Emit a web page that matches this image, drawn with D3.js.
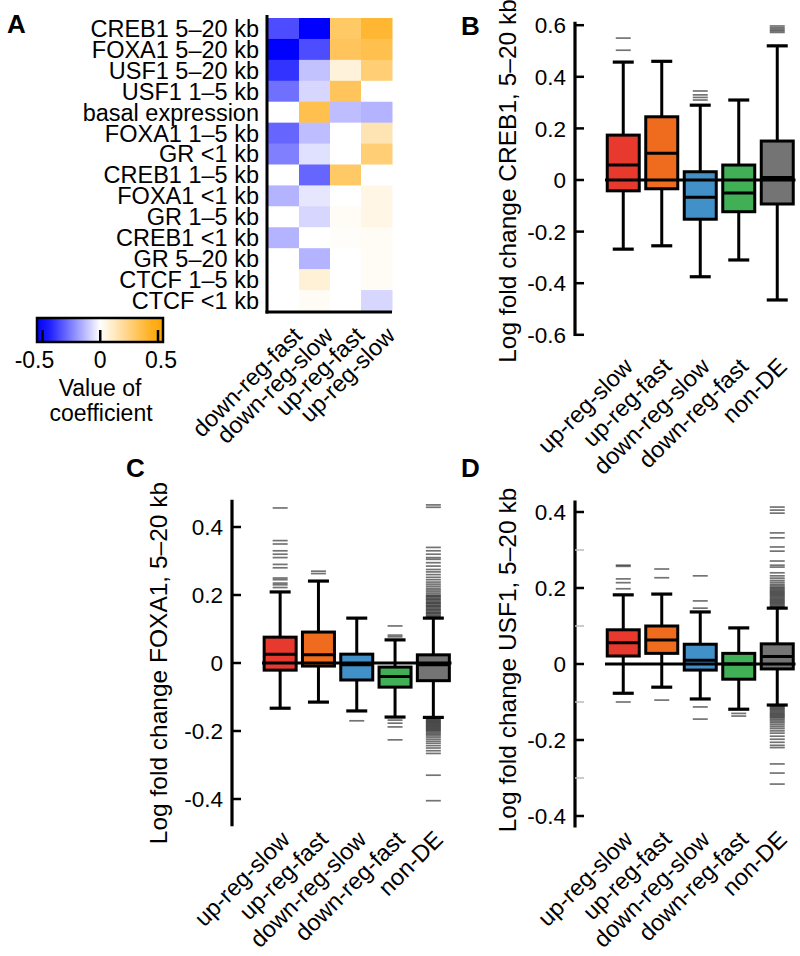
<!DOCTYPE html>
<html><head><meta charset="utf-8">
<script src="https://cdn.jsdelivr.net/npm/d3@7"></script>
<style>
body{margin:0;background:#fff}
text{font-family:"Liberation Sans",Arial,Helvetica,sans-serif;fill:#000}
</style>
</head><body>
<svg id="chart" width="800" height="956"></svg>
<script>
// ---------- DATA ----------
const rowLabels = ["CREB1 5\u201320 kb","FOXA1 5\u201320 kb","USF1 5\u201320 kb","USF1 1\u20135 kb","basal expression",
  "FOXA1 1\u20135 kb","GR <1 kb","CREB1 1\u20135 kb","FOXA1 <1 kb","GR 1\u20135 kb","CREB1 <1 kb","GR 5\u201320 kb",
  "CTCF 1\u20135 kb","CTCF <1 kb"];
const colLabels = ["down-reg-fast","down-reg-slow","up-reg-fast","up-reg-slow"];
// coefficient per row, columns in colLabels order
const coefDownFast = [-0.35,-0.5,-0.4,-0.28,0,-0.3,-0.25,0,-0.15,0,-0.15,0,0,0];
const coefDownSlow = [-0.5,-0.35,-0.12,-0.08,0.35,-0.13,-0.06,-0.3,-0.05,-0.08,0,-0.15,0.08,0.02];
const coefUpFast   = [0.3,0.32,0.07,0.32,-0.13,0,0,0.3,0,0.02,0.01,0,0,0];
const coefUpSlow   = [0.4,0.35,0.27,0,-0.15,0.15,0.27,0,0.05,0.05,0.02,0.02,0.02,-0.08];
const colorbarTicks = [-0.5,0,0.5];

const groups = ["up-reg-slow","up-reg-fast","down-reg-slow","down-reg-fast","non-DE"];
const groupColors = ["#e8392f","#ef6c1e","#4190c8","#40af55","#747474"];

// box stats per group: [lower whisker, Q1, median, Q3, upper whisker]
const creb1Stats = [
  [-0.268,-0.042,0.058,0.174,0.457],
  [-0.255,-0.034,0.104,0.245,0.46],
  [-0.375,-0.152,-0.067,0.032,0.29],
  [-0.31,-0.123,-0.05,0.058,0.31],
  [-0.465,-0.093,0.01,0.151,0.52]];
const creb1Outliers = [
  [0.55,0.503],
  [],
  [0.31,0.32,0.33,0.345],
  [],
  [0.572,0.578,0.584,0.59,0.597]];
const creb1Ticks = [0.6,0.4,0.2,0,-0.2,-0.4,-0.6];

const foxa1Stats = [
  [-0.133,-0.021,0.026,0.076,0.209],
  [-0.115,-0.009,0.024,0.091,0.241],
  [-0.141,-0.05,-0.005,0.026,0.132],
  [-0.159,-0.071,-0.04,-0.012,0.068],
  [-0.16,-0.052,-0.005,0.024,0.132]];
const foxa1Outliers = [
  [0.456,0.36,0.35,0.33,0.32,0.31,0.29,0.28,0.25,0.245,0.235,0.23,0.222],
  [0.27,0.263],
  [-0.17],
  [0.109,0.082,0.077,-0.168,-0.177,-0.188,-0.226],
  [0.465,0.458,0.34,0.33,0.32,0.31,0.305,0.295,0.285,0.275,0.268,0.26,0.252,0.245,0.238,0.232,0.226,0.22,
   0.215,0.21,0.205,0.2,0.197,0.194,0.19,0.187,0.184,0.18,0.177,0.174,0.17,0.167,0.164,0.16,0.157,0.154,0.15,
   0.147,0.144,0.14,0.137,0.134,
   -0.162,-0.165,-0.168,-0.171,-0.174,-0.177,-0.18,-0.183,-0.186,-0.189,-0.192,-0.195,-0.198,-0.201,-0.205,
   -0.209,-0.213,-0.218,-0.224,-0.23,-0.236,-0.243,-0.25,-0.258,-0.266,-0.33,-0.405]];
const foxa1Ticks = [0.4,0.2,0,-0.2,-0.4];

const usf1Stats = [
  [-0.077,0.021,0.056,0.09,0.182],
  [-0.061,0.028,0.063,0.1,0.184],
  [-0.092,-0.016,0.01,0.052,0.137],
  [-0.119,-0.04,0.0,0.028,0.095],
  [-0.108,-0.013,0.02,0.053,0.147]];
const usf1Outliers = [
  [0.26,0.257,0.224,0.214,0.198,-0.1],
  [0.25,0.227,-0.095],
  [0.232,0.166,0.147,-0.113,-0.145],
  [-0.13,-0.137],
  [0.413,0.405,0.397,0.345,0.332,0.308,0.297,0.271,0.26,0.255,0.24,0.232,0.226,0.22,0.215,0.21,0.206,0.202,
   0.199,0.196,0.193,0.19,0.187,0.184,0.181,0.178,0.175,0.172,0.169,0.166,0.163,0.16,0.157,0.154,0.151,0.149,
   -0.11,-0.113,-0.116,-0.119,-0.122,-0.125,-0.128,-0.131,-0.134,-0.137,-0.14,-0.143,-0.147,-0.151,-0.155,
   -0.16,-0.165,-0.17,-0.176,-0.182,-0.19,-0.198,-0.206,-0.214,-0.22,-0.263,-0.287,-0.316]];
const usf1Ticks = [0.4,0.2,0,-0.2,-0.4];
const usf1MinorTicks = [0.3,0.1,-0.1,-0.3];

// ---------- DRAW ----------
const svg = d3.select("#chart");
const FS = 23.5;

function panelLetter(t, x, y){
  svg.append("text").attr("x",x).attr("y",y).attr("font-size",26).attr("font-weight","bold").text(t);
}

// Panel A: heatmap
panelLetter("A", 7, 33);
const heatCols = [coefDownFast, coefDownSlow, coefUpFast, coefUpSlow];
const hx = d3.scaleBand().domain(colLabels).range([268, 392]);
const hy = d3.scaleBand().domain(rowLabels).range([18, 311]);
const colorScale = d3.scaleLinear().domain([-0.5,0,0.5]).range(["#0000ff","#ffffff","#ffa500"]).clamp(true);
const gA = svg.append("g");
const cells = [];
heatCols.forEach((col, ci) => col.forEach((v, ri) => cells.push({c: colLabels[ci], r: rowLabels[ri], v})));
gA.selectAll("rect.cell").data(cells).join("rect")
  .attr("x", d => hx(d.c)).attr("y", d => hy(d.r))
  .attr("width", hx.bandwidth()+0.5).attr("height", hy.bandwidth()+0.5)
  .attr("fill", d => colorScale(d.v));
gA.append("line").attr("x1",267).attr("x2",267).attr("y1",15).attr("y2",313.5).attr("stroke","#000").attr("stroke-width",3);
gA.append("line").attr("x1",265.5).attr("x2",392).attr("y1",312).attr("y2",312).attr("stroke","#000").attr("stroke-width",3);
gA.selectAll("text.row").data(rowLabels).join("text")
  .attr("x", 259).attr("y", d => hy(d) + hy.bandwidth()/2).attr("dy","0.36em")
  .attr("text-anchor","end").attr("font-size",23.5).text(d => d);
gA.selectAll("text.col").data(colLabels).join("text")
  .attr("text-anchor","end").attr("font-size",FS)
  .attr("transform", d => `translate(${hx(d)+hx.bandwidth()/2+20},337) rotate(-45)`)
  .text(d => d);

// colorbar
const cbx = d3.scaleLinear().domain([-0.5,0.5]).range([42.5,158]);
const defs = svg.append("defs");
const grad = defs.append("linearGradient").attr("id","cbgrad").attr("x1","0%").attr("x2","100%");
const cbStops = d3.range(0, 1.0001, 0.1);
grad.selectAll("stop").data(cbStops).join("stop")
  .attr("offset", d => (d*100)+"%")
  .attr("stop-color", d => colorScale(cbx.invert(37 + d*126)));
svg.append("rect").attr("x",37).attr("y",318).attr("width",126).attr("height",24)
  .attr("fill","url(#cbgrad)").attr("stroke","#000").attr("stroke-width",2.5);
svg.selectAll("line.cbt").data(colorbarTicks).join("line")
  .attr("x1", d => cbx(d)).attr("x2", d => cbx(d)).attr("y1",341).attr("y2",330)
  .attr("stroke","#000").attr("stroke-width",2.5);
svg.selectAll("text.cbt").data(colorbarTicks).join("text")
  .attr("x", d => cbx(d) + (d<0 ? -8 : (d>0 ? 3 : 0))).attr("y",368).attr("text-anchor","middle")
  .attr("font-size",23).text(d => d3.format("")(d).replace("\u2212","-"));
svg.append("text").attr("x",100).attr("y",396).attr("text-anchor","middle").attr("font-size",23).text("Value of");
svg.append("text").attr("x",101).attr("y",421).attr("text-anchor","middle").attr("font-size",23).text("coefficient");

// Box panel function
function boxPanel(opt){
  const g = svg.append("g");
  const y = d3.scaleLinear().domain([-0.4,0.4]).range(opt.yRange);
  const x = d3.scaleBand().domain(groups).range(opt.xRange);
  const bw = 32, cap = 21;
  const cx = d => x(d) + x.bandwidth()/2;
  // axis
  g.append("line").attr("x1",opt.axisX).attr("x2",opt.axisX)
    .attr("y1", y(opt.axisTop)).attr("y2", y(opt.axisBottom)).attr("stroke","#000").attr("stroke-width",3.2);
  if (opt.minor) {
    g.selectAll("line.minor").data(opt.minor).join("line")
      .attr("x1",opt.axisX).attr("x2",opt.axisX+9).attr("y1",d=>y(d)).attr("y2",d=>y(d))
      .attr("stroke","#bbb").attr("stroke-width",1.5);
  }
  g.selectAll("line.tick").data(opt.ticks).join("line")
    .attr("x1",opt.axisX).attr("x2",opt.axisX+9).attr("y1",d=>y(d)).attr("y2",d=>y(d))
    .attr("stroke","#000").attr("stroke-width",2.5);
  g.selectAll("text.tick").data(opt.ticks).join("text")
    .attr("x",opt.axisX-9).attr("y",d=>y(d)).attr("dy","0.36em").attr("text-anchor","end")
    .attr("font-size",22.5).text(d => d===0 ? "0" : d3.format(".1f")(d).replace("\u2212","-"));
  g.append("text").attr("transform",`translate(${opt.labelX},${opt.labelY}) rotate(-90)`)
    .attr("text-anchor","middle").attr("font-size",24.5).text(opt.yLabel);
  // data
  const data = groups.map((gname,i)=>({g:gname, s:opt.stats[i], o:opt.outliers[i], c:groupColors[i]}));
  // outliers
  data.forEach(d=>{
    g.selectAll(null).data(d.o).join("line")
      .attr("x1",cx(d.g)-7.5).attr("x2",cx(d.g)+7.5).attr("y1",v=>y(v)).attr("y2",v=>y(v))
      .attr("stroke","rgba(0,0,0,0.55)").attr("stroke-width",1.7);
  });
  const bg = g.selectAll("g.box").data(data).join("g");
  // whiskers
  bg.append("line").attr("x1",d=>cx(d.g)).attr("x2",d=>cx(d.g)).attr("y1",d=>y(d.s[0])).attr("y2",d=>y(d.s[4]))
    .attr("stroke","#000").attr("stroke-width",3);
  bg.append("line").attr("x1",d=>cx(d.g)-cap/2).attr("x2",d=>cx(d.g)+cap/2).attr("y1",d=>y(d.s[4])).attr("y2",d=>y(d.s[4]))
    .attr("stroke","#000").attr("stroke-width",3.2);
  bg.append("line").attr("x1",d=>cx(d.g)-cap/2).attr("x2",d=>cx(d.g)+cap/2).attr("y1",d=>y(d.s[0])).attr("y2",d=>y(d.s[0]))
    .attr("stroke","#000").attr("stroke-width",3.2);
  bg.append("rect").attr("x",d=>cx(d.g)-bw/2).attr("width",bw)
    .attr("y",d=>y(d.s[3])).attr("height",d=>y(d.s[1])-y(d.s[3]))
    .attr("fill",d=>d.c).attr("stroke","#000").attr("stroke-width",3);
  bg.append("line").attr("x1",d=>cx(d.g)-bw/2).attr("x2",d=>cx(d.g)+bw/2).attr("y1",d=>y(d.s[2])).attr("y2",d=>y(d.s[2]))
    .attr("stroke","#000").attr("stroke-width",3);
  // zero line
  g.append("line").attr("x1",opt.xRange[0]+1).attr("x2",opt.xRange[1]-1).attr("y1",y(0)).attr("y2",y(0))
    .attr("stroke","#000").attr("stroke-width",3.2);
  // category labels
  g.selectAll("text.cat").data(groups).join("text")
    .attr("text-anchor","end").attr("font-size",FS)
    .attr("transform", d => `translate(${cx(d)+11},${opt.catY}) rotate(-45)`)
    .text(d=>d);
}

panelLetter("B", 461, 35);
boxPanel({stats:creb1Stats, outliers:creb1Outliers, ticks:creb1Ticks,
  yRange:[283.2, 76.8], xRange:[604, 796.5], axisX:575, axisTop:0.613, axisBottom:-0.605,
  labelX:516, labelY:181, catY:368, yLabel:"Log fold change CREB1, 5\u201320 kb"});

panelLetter("C", 126, 477);
boxPanel({stats:foxa1Stats, outliers:foxa1Outliers, ticks:foxa1Ticks,
  yRange:[799, 527], xRange:[261, 452.5], axisX:232, axisTop:0.48, axisBottom:-0.48,
  labelX:167, labelY:663, catY:841, yLabel:"Log fold change FOXA1, 5\u201320 kb"});

panelLetter("D", 461, 477);
boxPanel({stats:usf1Stats, outliers:usf1Outliers, ticks:usf1Ticks, minor:usf1MinorTicks,
  yRange:[816, 512], xRange:[604, 796.5], axisX:575, axisTop:0.43, axisBottom:-0.43,
  labelX:516, labelY:660, catY:841, yLabel:"Log fold change USF1, 5\u201320 kb"});
</script>
</body></html>
